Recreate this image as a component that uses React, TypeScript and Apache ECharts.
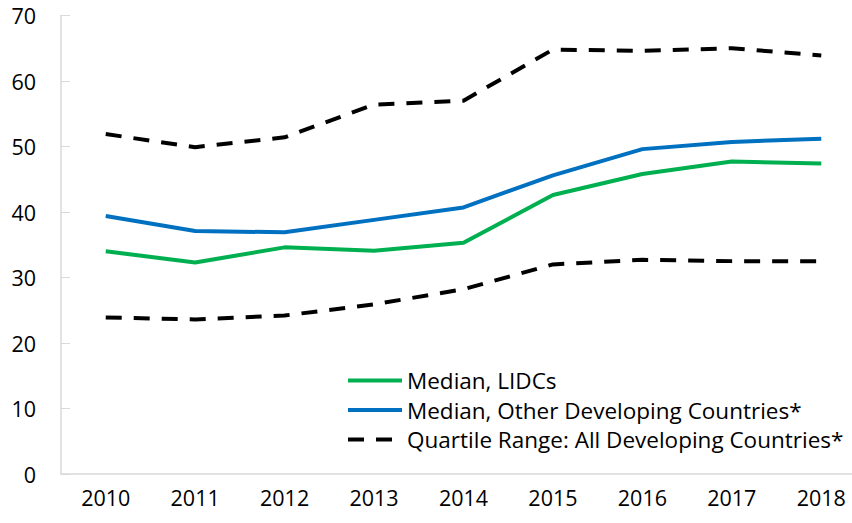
import React, { useEffect, useRef } from "react";
import * as echarts from "echarts";

const years = ["2010", "2011", "2012", "2013", "2014", "2015", "2016", "2017", "2018"];
const medianLIDC = [34.0, 32.3, 34.6, 34.1, 35.3, 42.6, 45.8, 47.7, 47.4];
const medianOther = [39.4, 37.1, 36.9, 38.8, 40.7, 45.6, 49.6, 50.7, 51.2];
const quartileUpper = [51.9, 49.9, 51.4, 56.4, 57.0, 64.8, 64.6, 65.0, 63.9];
const quartileLower = [23.9, 23.6, 24.2, 25.9, 28.2, 32.0, 32.7, 32.5, 32.5];

const nameLIDC = "Median, LIDCs";
const nameOther = "Median, Other Developing Countries*";
const nameQuart = "Quartile Range: All Developing Countries*";

const FONT = "'Open Sans', 'Noto Sans', sans-serif";

export default function App() {
  const ref = useRef<HTMLDivElement>(null);
  useEffect(() => {
    if (!ref.current) return;
    const chart = echarts.init(ref.current, null, { renderer: "svg" });
    const dash = { type: [16, 12] as any, width: 4, color: "#000000", cap: "butt" as any };
    chart.setOption({
      animation: false,
      grid: { left: 61, top: 15.5, bottom: 49, right: -14, containLabel: false, outerBoundsMode: "none" },
      legend: {
        orient: "vertical",
        left: 341,
        top: 364,
        itemWidth: 54,
        itemHeight: 14,
        itemGap: 6.5,
        itemStyle: { opacity: 0, borderWidth: 0 },
        lineStyle: { width: 4 },
        textStyle: { fontFamily: FONT, fontSize: 22.5, color: "#000", lineHeight: 22 },
        data: [nameLIDC, nameOther, nameQuart],
      },
      xAxis: {
        type: "category",
        data: years,
        boundaryGap: true,
        axisLine: { lineStyle: { color: "#d9d9d9", width: 1.5 } },
        axisTick: { show: false },
        axisLabel: { fontFamily: FONT, fontSize: 21.5, color: "#000", margin: 12 },
      },
      yAxis: {
        type: "value",
        min: 0,
        max: 70,
        interval: 10,
        splitLine: { show: false },
        axisLine: { show: true, lineStyle: { color: "#d9d9d9", width: 1.5 } },
        axisTick: { show: true, inside: true, length: 9, lineStyle: { color: "#d9d9d9" } },
        axisLabel: { fontFamily: FONT, fontSize: 21.5, color: "#000", margin: 25 },
      },
      series: [
        {
          name: nameLIDC,
          type: "line",
          data: medianLIDC,
          symbol: "none",
          lineStyle: { color: "#00B050", width: 4 },
          itemStyle: { color: "#00B050" },
        },
        {
          name: nameOther,
          type: "line",
          data: medianOther,
          symbol: "none",
          lineStyle: { color: "#0070C0", width: 4 },
          itemStyle: { color: "#0070C0" },
        },
        {
          name: nameQuart,
          type: "line",
          data: quartileUpper,
          symbol: "none",
          lineStyle: dash,
          itemStyle: { color: "#000" },
        },
        {
          name: nameQuart,
          type: "line",
          data: quartileLower,
          symbol: "none",
          lineStyle: dash,
          itemStyle: { color: "#000" },
        },
      ],
    });
    return () => chart.dispose();
  }, []);
  return <div ref={ref} style={{ width: 852, height: 523, position: "absolute", left: 0, top: 0 }} />;
}
